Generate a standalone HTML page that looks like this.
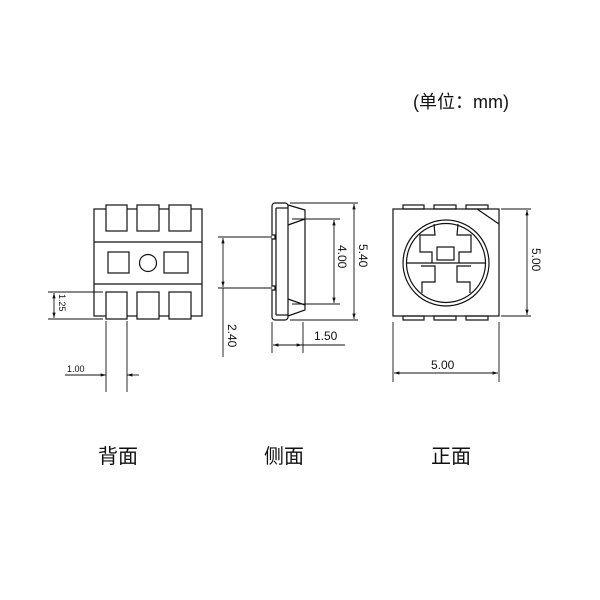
<!DOCTYPE html>
<html><head><meta charset="utf-8"><style>
html,body{margin:0;padding:0;background:#fff;}
svg{display:block;}
text{font-family:"Liberation Sans","Noto Sans CJK SC",sans-serif;fill:#111;}
</style></head><body>
<svg width="600" height="600" viewBox="0 0 600 600" xmlns="http://www.w3.org/2000/svg">
<defs>
<marker id="a" viewBox="0 0 10 6" refX="10" refY="3" markerWidth="6" markerHeight="4" orient="auto-start-reverse"><path d="M0,0 L10,3 L0,6 z" fill="#111"/></marker>
</defs>
<g fill="none" stroke="#111" stroke-width="1.2">
<!-- back view -->
<rect x="94" y="209" width="108" height="107"/>
<line x1="94" y1="242" x2="202" y2="242"/>
<line x1="94" y1="284" x2="202" y2="284"/>
<rect x="106" y="205" width="21" height="26" fill="#fff"/>
<rect x="137" y="205" width="22" height="26" fill="#fff"/>
<rect x="169" y="205" width="22" height="26" fill="#fff"/>
<rect x="106" y="292" width="21" height="27" fill="#fff"/>
<rect x="137" y="292" width="22" height="27" fill="#fff"/>
<rect x="169" y="292" width="22" height="27" fill="#fff"/>
<rect x="108" y="252" width="21" height="21"/>
<rect x="164" y="252" width="24" height="21"/>
<circle cx="148" cy="263" r="8.5"/>
<line x1="48" y1="292" x2="103" y2="292" stroke-width="0.9"/>
<line x1="48" y1="319" x2="103" y2="319" stroke-width="0.9"/>
<line x1="54" y1="293" x2="54" y2="318" stroke-width="0.9" marker-start="url(#a)" marker-end="url(#a)"/>
<line x1="106" y1="321" x2="106" y2="392" stroke-width="0.9"/>
<line x1="127" y1="321" x2="127" y2="392" stroke-width="0.9"/>
<line x1="65" y1="375" x2="106" y2="375" stroke-width="0.9" marker-end="url(#a)"/>
<line x1="139" y1="375" x2="127" y2="375" stroke-width="0.9" marker-end="url(#a)"/>
<!-- side view -->
<rect x="272" y="203" width="16" height="117" rx="3"/>
<line x1="276" y1="208" x2="276" y2="315"/>
<line x1="276" y1="208" x2="288" y2="208"/>
<line x1="276" y1="315" x2="288" y2="315"/>
<path d="M288,205 L305,210 L305,310 L288,316"/>
<line x1="288" y1="225" x2="305" y2="219"/>
<line x1="288" y1="299" x2="305" y2="305"/>
<path d="M272,235 h3 v4 h-3 M272,286 h3 v4 h-3" fill="#fff"/>
<line x1="218" y1="237" x2="271" y2="237" stroke-width="0.9"/>
<line x1="218" y1="288" x2="271" y2="288" stroke-width="0.9"/>
<line x1="223" y1="238" x2="223" y2="287" stroke-width="0.9" marker-start="url(#a)" marker-end="url(#a)"/>
<line x1="223" y1="288" x2="223" y2="357" stroke-width="0.9"/>
<line x1="292" y1="219" x2="340" y2="219" stroke-width="0.9"/>
<line x1="292" y1="304" x2="340" y2="304" stroke-width="0.9"/>
<line x1="334" y1="220" x2="334" y2="303" stroke-width="0.9" marker-start="url(#a)" marker-end="url(#a)"/>
<line x1="290" y1="203" x2="358" y2="203" stroke-width="0.9"/>
<line x1="290" y1="320" x2="358" y2="320" stroke-width="0.9"/>
<line x1="354" y1="204" x2="354" y2="319" stroke-width="0.9" marker-start="url(#a)" marker-end="url(#a)"/>
<line x1="272" y1="322" x2="272" y2="353" stroke-width="0.9"/>
<line x1="303" y1="322" x2="303" y2="353" stroke-width="0.9"/>
<line x1="273" y1="345" x2="302" y2="345" stroke-width="0.9" marker-start="url(#a)" marker-end="url(#a)"/>
<line x1="302" y1="345" x2="345" y2="345" stroke-width="0.9"/>
<!-- front view -->
<rect x="393" y="209" width="106" height="107"/>
<rect x="403" y="205" width="21" height="4"/>
<rect x="434" y="205" width="22" height="4"/>
<rect x="466" y="205" width="22" height="4"/>
<rect x="403" y="316" width="21" height="4"/>
<rect x="434" y="316" width="22" height="4"/>
<rect x="466" y="316" width="22" height="4"/>
<line x1="477" y1="209" x2="499" y2="224"/>
<circle cx="446" cy="263" r="43"/>
<circle cx="446" cy="263" r="39.5"/>
<line x1="407" y1="263" x2="485" y2="263"/>
<rect x="437" y="247" width="17" height="13"/>
<path d="M434,224 L435,235 L420,235 L420,252 L432,252 L432,263"/>
<path d="M458,224 L457,235 L471,235 L471,252 L459,252 L459,263"/>
<path d="M421,266 L435,266 L435,282 L422,282 L422,293"/>
<path d="M471,266 L457,266 L457,282 L470,282 L470,293"/>
<line x1="501" y1="209" x2="531" y2="209" stroke-width="0.9"/>
<line x1="501" y1="316" x2="531" y2="316" stroke-width="0.9"/>
<line x1="527" y1="210" x2="527" y2="315" stroke-width="0.9" marker-start="url(#a)" marker-end="url(#a)"/>
<line x1="393" y1="322" x2="393" y2="382" stroke-width="0.9"/>
<line x1="499" y1="322" x2="499" y2="382" stroke-width="0.9"/>
<line x1="394" y1="373" x2="498" y2="373" stroke-width="0.9" marker-start="url(#a)" marker-end="url(#a)"/>
</g>
<g font-size="11">
<text x="0" y="0" font-size="9" transform="translate(59,294) rotate(90)">1.25</text>
<text x="67" y="372" font-size="9">1.00</text>
<text x="0" y="0" font-size="12" transform="translate(228,324) rotate(90)">2.40</text>
<text x="0" y="0" font-size="12" transform="translate(338,245) rotate(90)">4.00</text>
<text x="0" y="0" font-size="12" transform="translate(359,244) rotate(90)">5.40</text>
<text x="314" y="340" font-size="12">1.50</text>
<text x="0" y="0" font-size="12" transform="translate(532,248) rotate(90)">5.00</text>
<text x="431" y="369" font-size="12">5.00</text>
</g>
<text x="98" y="463" font-size="20">背面</text>
<text x="264" y="463" font-size="20">侧面</text>
<text x="431" y="463" font-size="20">正面</text>
<text x="413" y="108" font-size="18">(单位：mm)</text>
</svg>
</body></html>
